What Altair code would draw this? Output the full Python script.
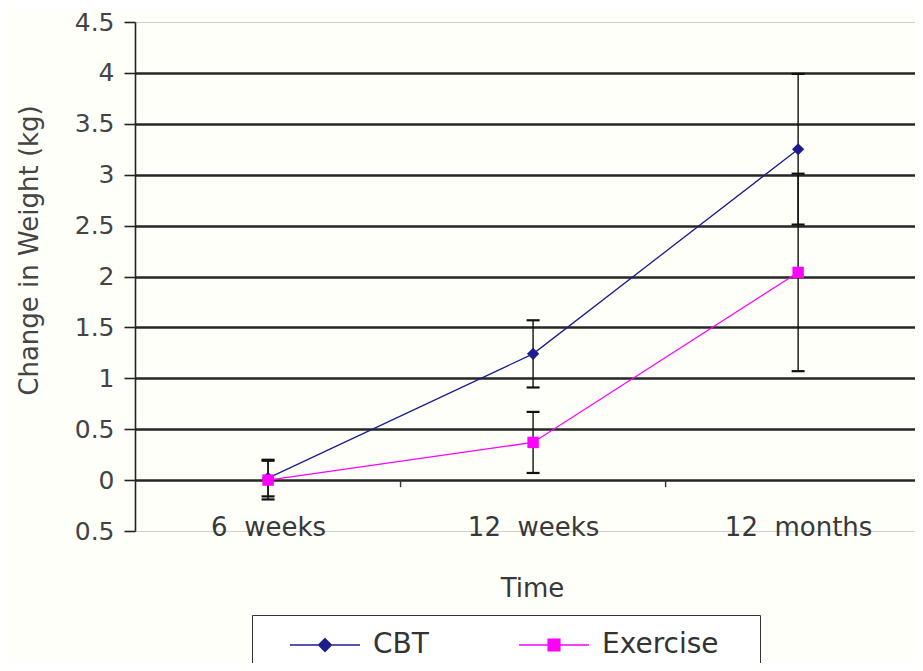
import altair as alt
import pandas as pd

# ---- data ----
time_labels = ["6\u00a0\u00a0weeks", "12\u00a0\u00a0weeks", "12\u00a0\u00a0months"]
time_pos = [1, 2, 3]
series_names = ["CBT", "Exercise"]
cbt_mean = [0.02, 1.24, 3.25]
cbt_err = [0.18, 0.33, 0.74]
ex_mean = [0.0, 0.37, 2.04]
ex_err = [0.19, 0.30, 0.97]
series_colors = ["#1c1c8e", "#ff00ff"]
boundary_pos = [1.5, 2.5]
y_ticks = [-0.5, 0, 0.5, 1, 1.5, 2, 2.5, 3, 3.5, 4, 4.5]

rows = []
for s, means, errs in [("CBT", cbt_mean, cbt_err), ("Exercise", ex_mean, ex_err)]:
    for t, lab, m, e in zip(time_pos, time_labels, means, errs):
        rows.append({"series": s, "t": t, "label": lab, "mean": m, "lo": m - e, "hi": m + e})
df = pd.DataFrame(rows)
bdf = pd.DataFrame({"b": boundary_pos})

FONT = "DejaVu Sans"
x_label_expr = " : ".join(
    [f"datum.value == {p} ? '{l}'" for p, l in zip(time_pos[:-1], time_labels[:-1])]
    + [f"'{time_labels[-1]}'"]
)
is_cbt = f"datum.series == '{series_names[0]}'"

xscale = alt.Scale(domain=[0.498, 3.441], nice=False, zero=False)
yscale = alt.Scale(domain=[-0.5, 4.5], nice=False, zero=False)
cscale = alt.Scale(domain=series_names, range=series_colors)

cbt_path = "M-7,0L7,0M0,-1.25L1.25,0L0,1.25L-1.25,0Z"
ex_path = "M-7,0L7,0M-1.15,-1.15L1.15,-1.15L1.15,1.15L-1.15,1.15Z"
shape_scale = alt.Scale(domain=series_names, range=[cbt_path, ex_path])

x_axis = alt.Axis(
    values=time_pos, labelExpr=x_label_expr, ticks=False, domain=False, grid=False,
    labelPadding=-4, labelBaseline="middle", labelFontSize=26, labelColor="#383838",
    labelFont=FONT, title="Time", titleFontSize=26, titleFontWeight="normal",
    titleColor="#383838", titleFont=FONT, titleX=397, titleY=57, titleBaseline="middle",
)
y_axis = alt.Axis(
    values=y_ticks,
    labelExpr="format(abs(datum.value), '')",
    grid=True,
    gridColor={"condition": {"test": "datum.value > 4.2 || datum.value < -0.2", "value": "#d0d0d0"}, "value": "#262626"},
    gridWidth={"condition": {"test": "datum.value > 4.2 || datum.value < -0.2", "value": 1.2}, "value": 2.6},
    domainColor="#222", domainWidth=1.6, tickColor="#222", tickWidth=1.6, tickSize=11,
    labelFontSize=25, labelColor="#444", labelFont=FONT, labelPadding=10,
    title="Change in Weight (kg)", titleFontSize=26, titleFontWeight="normal",
    titleColor="#444", titleFont=FONT, titlePadding=32, titleY=228,
)

base = alt.Chart(df)

line = base.mark_line(strokeWidth=1.3).encode(
    x=alt.X("t:Q", scale=xscale, axis=x_axis),
    y=alt.Y("mean:Q", scale=yscale, axis=y_axis),
    detail="series:N",
    color=alt.condition(is_cbt, alt.value(series_colors[0]), alt.value(series_colors[1])),
)

err_rule = base.mark_rule(color="#111", strokeWidth=1.4).encode(
    x=alt.X("t:Q", scale=xscale),
    y=alt.Y("lo:Q", scale=yscale),
    y2="hi:Q",
)

caps = base.transform_fold(["lo", "hi"], as_=["end", "val"]).mark_tick(
    orient="horizontal", color="#111", size=13, thickness=2.2, opacity=1
).encode(
    x=alt.X("t:Q", scale=xscale),
    y=alt.Y("val:Q", scale=yscale),
)

bticks = alt.Chart(bdf).mark_rule(color="#333", strokeWidth=1.4).encode(
    x=alt.X("b:Q", scale=xscale),
    y=alt.datum(0),
    y2=alt.datum(-0.07),
)

points = base.mark_point(filled=True, opacity=1).encode(
    x=alt.X("t:Q", scale=xscale),
    y=alt.Y("mean:Q", scale=yscale),
    color=alt.condition(is_cbt, alt.value(series_colors[0]), alt.value(series_colors[1])),
    shape=alt.condition(is_cbt, alt.value("diamond"), alt.value("square")),
    size=alt.condition(is_cbt, alt.value(150), alt.value(130)),
)

leg = dict(
    orient="none", legendX=117, legendY=593, direction="horizontal",
    title="\u00a0", titleOrient="right", titleFontSize=28, titlePadding=25,
    strokeColor="#333", fillColor="#ffffff", padding=16, labelFontSize=28,
    labelColor="#333", labelFont=FONT, symbolOffset=43, labelOffset=34,
    columnPadding=68, symbolStrokeWidth=1.6, symbolSize=100, symbolOpacity=1,
)

legend_layer = base.mark_point(filled=True, clip=True, strokeWidth=1.6, opacity=1).encode(
    x=alt.X("t:Q", scale=xscale),
    y=alt.datum(-10),
    color=alt.Color("series:N", scale=cscale, legend=alt.Legend(**leg)),
    stroke=alt.Stroke("series:N", scale=cscale, legend=alt.Legend(**leg)),
    shape=alt.Shape("series:N", scale=shape_scale, legend=alt.Legend(**leg)),
    size=alt.value(100),
)

chart = alt.layer(err_rule, caps, bticks, line, points, legend_layer).properties(
    width=780,
    height=509,
    padding={"left": 127, "top": 14, "right": 0, "bottom": 132},
    autosize=alt.AutoSizeParams(type="none"),
    background="#fffffa",
).configure_view(stroke=None)

chart.save("out.html", embed_options={"renderer": "svg", "actions": False})
